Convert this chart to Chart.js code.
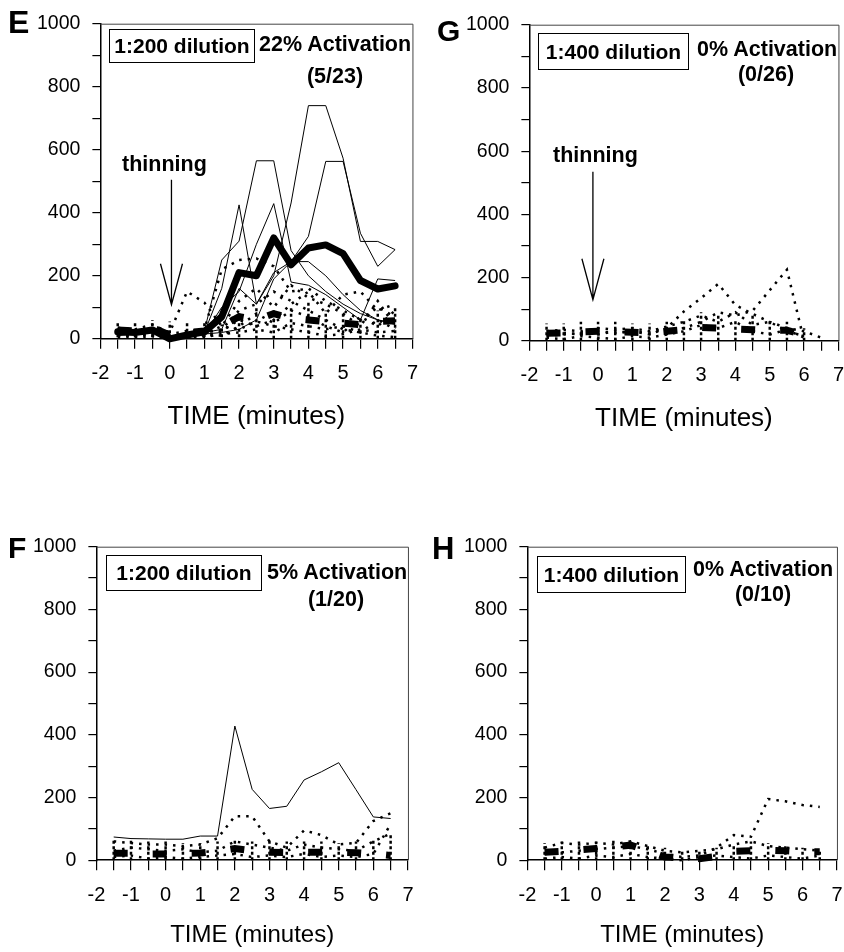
<!DOCTYPE html>
<html><head><meta charset="utf-8">
<script src="https://cdn.jsdelivr.net/npm/chart.js@4.4.1/dist/chart.umd.min.js"></script>
<style>
html,body{margin:0;padding:0;background:#fff;}
body{width:844px;height:952px;position:relative;overflow:hidden;font-family:'Liberation Sans',Arial,sans-serif;color:#000;}
.wrap{position:absolute;left:0;top:0;}
.t{position:absolute;white-space:nowrap;line-height:1;font-weight:bold;font-size:21.5px;}
.c{transform:translateX(-50%);}
.L{position:absolute;white-space:nowrap;line-height:1;font-weight:bold;}
.box{position:absolute;border:1.5px solid #000;box-sizing:border-box;display:flex;align-items:center;justify-content:center;font-weight:bold;font-size:21px;white-space:nowrap;background:#fff;}
</style></head>
<body>
<div id="wE" class="wrap"></div>
<div id="wG" class="wrap"></div>
<div id="wF" class="wrap"></div>
<div id="wH" class="wrap"></div>

<div class="L" style="left:8px;top:6px;font-size:32px">E</div>
<div class="box" style="left:109px;top:29px;width:146px;height:34px">1:200 dilution</div>
<div class="t" style="left:259px;top:34px">22% Activation</div>
<div class="t c" style="left:335px;top:66px">(5/23)</div>
<div class="t" style="left:122px;top:154px">thinning</div>

<div class="L" style="left:437px;top:16px;font-size:30px">G</div>
<div class="box" style="left:538px;top:33px;width:151px;height:37px">1:400 dilution</div>
<div class="t" style="left:697px;top:39px">0% Activation</div>
<div class="t c" style="left:766px;top:64px">(0/26)</div>
<div class="t" style="left:553px;top:145px">thinning</div>

<div class="L" style="left:8px;top:533px;font-size:30px">F</div>
<div class="box" style="left:106px;top:555px;width:156px;height:36px">1:200 dilution</div>
<div class="t" style="left:267px;top:562px">5% Activation</div>
<div class="t c" style="left:336px;top:589px">(1/20)</div>

<div class="L" style="left:432px;top:533px;font-size:31px">H</div>
<div class="box" style="left:537px;top:556px;width:149px;height:37px">1:400 dilution</div>
<div class="t" style="left:693px;top:559px">0% Activation</div>
<div class="t c" style="left:763px;top:584px">(0/10)</div>

<script>
// ---------- data ----------
const TIME = [-1.5,-1,-0.5,0,0.5,1,1.5,2,2.5,3,3.5,4,4.5,5,5.5,6,6.5];
const X_TICK_LABELS = ['-2','-1','0','1','2','3','4','5','6','7'];
const Y_TICK_LABELS = ['0','200','400','600','800','1000'];
const X_TITLE = 'TIME (minutes)';

// Panel E : 1:200 dilution, 22% activation (5/23)
const E_ACTIVE_1 = [20,18,25,5,15,25,250,310,565,565,280,200,150,110,80,60,50];
const E_ACTIVE_2 = [15,20,22,0,10,20,160,425,110,210,245,245,200,140,90,60,45];
const E_ACTIVE_3 = [10,15,20,0,10,15,100,150,300,429,180,170,140,100,60,190,185];
const E_ACTIVE_4 = [20,22,25,5,10,20,30,160,110,200,431,740,740,573,309,309,283];
const E_ACTIVE_5 = [15,15,20,0,5,15,20,30,60,190,245,325,563,563,335,230,283];
const E_ACTIVE_MEAN = [22,20,28,0,12,22,70,210,200,320,235,288,298,270,185,158,168];
const E_QUIET_1 = [35,30,45,20,150,115,40,30,55,40,30,20,10,15,30,20,25];
const E_QUIET_2 = [20,25,30,15,25,30,220,250,255,230,150,160,120,90,60,100,70];
const E_QUIET_3 = [15,10,20,5,10,15,40,120,160,100,170,130,110,80,40,120,40];
const E_QUIET_4 = [10,15,10,0,5,10,25,60,40,60,110,150,80,140,150,90,110];
const E_QUIET_5 = [5,5,8,0,5,5,15,20,30,20,50,40,30,40,20,60,30];
const E_QUIET_6 = [30,25,20,10,15,20,30,90,110,150,120,90,60,30,20,10,5];
const E_QUIET_7 = [12,8,15,0,8,12,10,40,80,50,90,70,40,20,70,40,90];
const E_QUIET_MEAN = [28,25,35,12,20,25,40,70,60,80,65,60,55,50,45,55,57];
const E_RANGE_LO = [5,5,5,0,5,5,5,5,0,0,0,0,0,0,0,0,0];
const E_RANGE_HI = [50,50,60,55,50,50,45,80,100,90,100,120,90,80,70,90,100];
const E_ARROW = [0.05,505,108];

// Panel G : 1:400 dilution, 0% activation (0/26)
const G_QUIET_1 = [20,25,20,30,25,30,20,40,93,135,180,113,85,60,40,30,10];
const G_QUIET_2 = [15,20,25,20,30,25,30,35,40,60,90,80,95,160,225,0,null];
const G_QUIET_3 = [10,5,15,10,5,15,10,20,30,50,40,60,30,20,35,10,null];
const G_QUIET_4 = [30,35,30,40,35,40,30,45,60,80,60,90,50,60,30,15,null];
const G_QUIET_MEAN = [24,25,28,30,28,27,25,30,35,42,40,37,35,33,33,20,null];
const G_RANGE_LO = [0,0,0,0,0,0,0,0,0,0,0,0,0,0,0,0,null];
const G_RANGE_HI = [55,55,60,60,60,55,55,60,65,90,80,70,80,70,60,40,null];
const G_ARROW = [-0.15,535,130];

// Panel F : 1:200 dilution, 5% activation (1/20)
const F_ACTIVE_1 = [74,69,68,67,67,77,77,428,226,165,172,256,282,311,225,138,133];
const F_QUIET_1 = [60,55,50,50,45,50,70,140,140,60,40,95,80,50,55,125,150];
const F_QUIET_2 = [30,40,35,30,35,25,30,60,50,40,30,50,40,35,30,60,85];
const F_QUIET_3 = [10,15,5,10,5,10,15,20,10,15,10,20,10,15,10,20,115];
const F_QUIET_MEAN = [22,22,20,20,22,23,28,37,30,25,24,25,25,25,24,20,15];
const F_RANGE_LO = [0,0,0,0,0,0,0,0,0,0,0,0,0,0,0,0,0];
const F_RANGE_HI = [70,65,60,60,55,55,60,70,60,65,60,60,60,55,60,70,80];

// Panel H : 1:400 dilution, 0% activation (0/10)
const H_QUIET_1 = [20,25,30,35,40,45,35,20,10,15,40,80,75,195,188,176,170];
const H_QUIET_2 = [40,55,50,55,50,60,45,30,25,30,35,50,60,45,40,35,30];
const H_QUIET_3 = [5,10,5,15,10,20,10,5,0,10,15,10,5,15,10,5,15];
const H_QUIET_MEAN = [25,28,33,37,42,48,30,10,8,5,12,28,30,32,30,27,27];
const H_RANGE_LO = [0,0,0,0,0,0,0,0,0,0,0,0,0,0,0,0,0];
const H_RANGE_HI = [55,60,60,60,65,60,50,40,35,30,40,50,60,55,45,40,35];

// ---------- builders ----------
const FONT = "'Liberation Sans', Arial, sans-serif";
const pts = arr => TIME.map((t,i)=>({x:t, y:arr[i]}));
const rangePts = (lo,hi) => {
  const out = [];
  TIME.forEach((t,i)=>{ if(lo[i]!==null && hi[i]!==null){ out.push({x:t,y:lo[i]},{x:t,y:hi[i]},{x:t,y:null}); } });
  return out;
};
const base = {type:'line', pointRadius:0, borderColor:'#000', backgroundColor:'#000', fill:false, tension:0, clip:14, spanGaps:false};
const thick = a => Object.assign({}, base, {data:pts(a), borderWidth:7, borderJoinStyle:'round', borderCapStyle:'round'});
const thin = a => Object.assign({}, base, {data:pts(a), borderWidth:1});
const dashMean = a => Object.assign({}, base, {data:pts(a), borderWidth:7, borderDash:[14,25], borderCapStyle:'butt'});
const dotted = a => Object.assign({}, base, {data:pts(a), borderWidth:2.5, borderDash:[2.5,6], borderCapStyle:'butt'});
const ranges = (lo,hi) => Object.assign({}, base, {data:rangePts(lo,hi), borderWidth:2.5, borderDash:[3,2.5], borderCapStyle:'butt'});

const decor = {
  id:'decor',
  afterDraw(chart, args, opts){
    const ctx = chart.ctx, ca = chart.chartArea;
    ctx.save();
    ctx.strokeStyle = '#444'; ctx.lineWidth = 1;
    ctx.beginPath();
    ctx.moveTo(ca.left, ca.top + 0.5); ctx.lineTo(ca.right + 0.5, ca.top + 0.5); ctx.lineTo(ca.right + 0.5, ca.bottom);
    ctx.stroke();
    if (opts.arrow){
      const xs = chart.scales.x, ys = chart.scales.y;
      const x = xs.getPixelForValue(opts.arrow[0]);
      const y1 = ys.getPixelForValue(opts.arrow[1]);
      const y2 = ys.getPixelForValue(opts.arrow[2]);
      ctx.strokeStyle = '#000'; ctx.lineWidth = 1.3;
      ctx.beginPath();
      ctx.moveTo(x, y1); ctx.lineTo(x, y2);
      ctx.moveTo(x - 11, y2 - 41); ctx.lineTo(x, y2); ctx.lineTo(x + 11, y2 - 41);
      ctx.stroke();
    }
    ctx.restore();
  }
};

function makeConfig(datasets, arrow, p){
  return {
    type:'line',
    data:{datasets},
    plugins:[decor],
    options:{
      responsive:false, animation:false, events:[],
      layout:{padding:{left:4,right:12,top:12,bottom:4}},
      plugins:{legend:{display:false}, tooltip:{enabled:false}, decor:{arrow}},
      scales:{
        x:{type:'linear', min:-2, max:7,
           border:{display:true,color:'#000',width:1.5},
           grid:{drawOnChartArea:false, drawTicks:true, tickLength:10, color:'#000', lineWidth:1.2},
           ticks:{stepSize:0.5, autoSkip:false, maxRotation:0, minRotation:0, padding:p.labPad, color:'#000',
                  font:{family:FONT,size:20},
                  callback:v => (Math.abs(v-Math.round(v))<1e-9) ? X_TICK_LABELS[Math.round(v)+2] : ''},
           title:{display:true, text:X_TITLE, color:'#000', font:{family:FONT,size:p.titleSize}, padding:{top:p.titlePad,bottom:0}}
        },
        y:{type:'linear', min:0, max:1000,
           border:{display:true,color:'#000',width:1.5},
           grid:{drawOnChartArea:false, drawTicks:true, tickLength:8, color:'#000', lineWidth:1.2},
           ticks:{stepSize:100, autoSkip:false, padding:12, color:'#000', font:{family:FONT,size:19.5},
                  callback:v => (Math.round(v)%200===0) ? Y_TICK_LABELS[Math.round(v)/200] : ''}
        }
      }
    }
  };
}

function panel(id, target, buildSets, arrow, p){
  const wrap = document.getElementById(id);
  let W = 460, H = 480;
  const make = () => {
    wrap.innerHTML = '';
    const c = document.createElement('canvas');
    c.width = W; c.height = H; c.style.width = W+'px'; c.style.height = H+'px';
    wrap.appendChild(c);
    return new Chart(c, makeConfig(buildSets(), arrow, p));
  };
  let ch = make();
  let ca = ch.chartArea;
  W = Math.round(W + (target[2]-target[0]) - (ca.right-ca.left));
  H = Math.round(H + (target[3]-target[1]) - (ca.bottom-ca.top));
  ch.destroy();
  ch = make();
  ca = ch.chartArea;
  wrap.style.left = (target[0]-ca.left)+'px';
  wrap.style.top = (target[1]-ca.top)+'px';
}

const TOP = {labPad:13, titleSize:26, titlePad:2};
const BOT = {labPad:13.5, titleSize:24, titlePad:0};

panel('wE', [100,24,412,339], () => [
  thick(E_ACTIVE_MEAN),
  thin(E_ACTIVE_1), thin(E_ACTIVE_2), thin(E_ACTIVE_3), thin(E_ACTIVE_4), thin(E_ACTIVE_5),
  dashMean(E_QUIET_MEAN),
  dotted(E_QUIET_1), dotted(E_QUIET_2), dotted(E_QUIET_3), dotted(E_QUIET_4), dotted(E_QUIET_5), dotted(E_QUIET_6), dotted(E_QUIET_7),
  ranges(E_RANGE_LO, E_RANGE_HI)
], E_ARROW, TOP);

panel('wG', [529,25,838,341], () => [
  dashMean(G_QUIET_MEAN),
  dotted(G_QUIET_1), dotted(G_QUIET_2), dotted(G_QUIET_3), dotted(G_QUIET_4),
  ranges(G_RANGE_LO, G_RANGE_HI)
], G_ARROW, TOP);

panel('wF', [96,547,408,860], () => [
  thin(F_ACTIVE_1),
  dashMean(F_QUIET_MEAN),
  dotted(F_QUIET_1), dotted(F_QUIET_2), dotted(F_QUIET_3),
  ranges(F_RANGE_LO, F_RANGE_HI)
], null, BOT);

panel('wH', [527,547,837,860], () => [
  dashMean(H_QUIET_MEAN),
  dotted(H_QUIET_1), dotted(H_QUIET_2), dotted(H_QUIET_3),
  ranges(H_RANGE_LO, H_RANGE_HI)
], null, BOT);
</script>
</body></html>
